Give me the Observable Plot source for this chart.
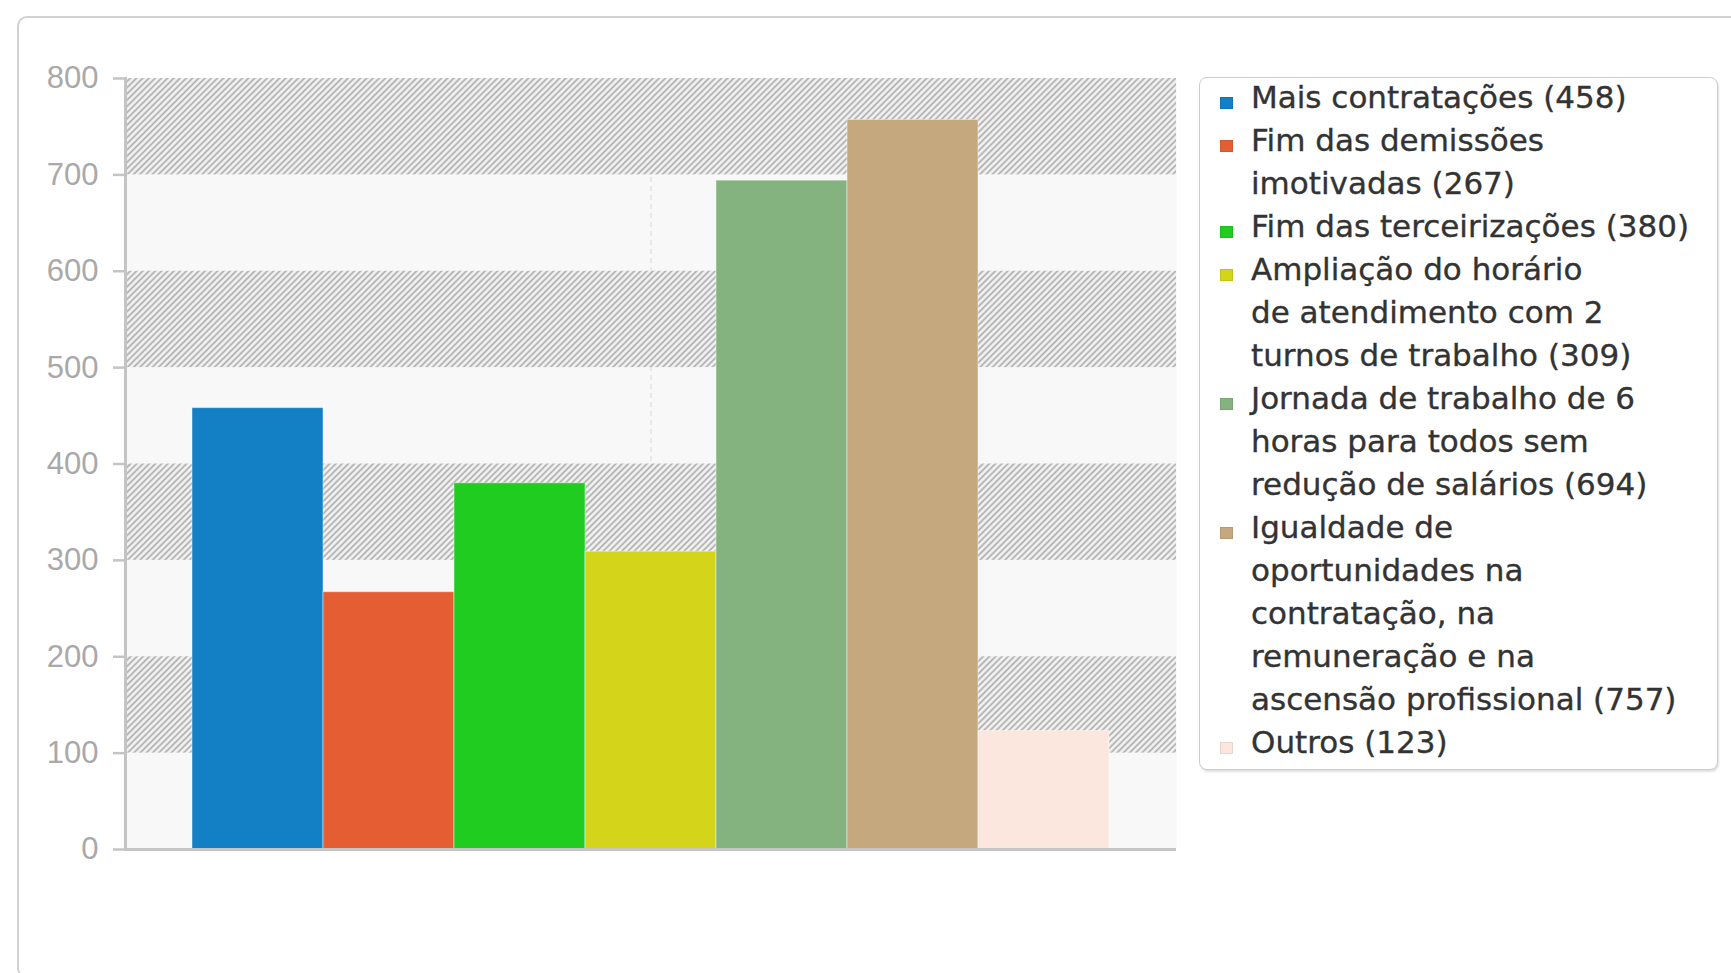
<!DOCTYPE html>
<html>
<head>
<meta charset="utf-8">
<script src="https://cdn.jsdelivr.net/npm/d3@7"></script>
<script src="https://cdn.jsdelivr.net/npm/@observablehq/plot@0.6"></script>
<style>
  html, body { margin: 0; padding: 0; background: #ffffff; }
  #stage { position: relative; width: 1731px; height: 973px; overflow: hidden; background: #fff; }
  #outer { position: absolute; left: 17px; top: 16px; width: 1800px; height: 962px;
           border: 2px solid #d2d2d2; border-radius: 10px; box-sizing: border-box; }
  #chart { position: absolute; left: 0; top: 0; }
  #legend { position: absolute; left: 1199px; top: 77px; width: 519px; height: 693px;
            box-sizing: border-box; border: 1.5px solid #cdcdcd; border-radius: 8px;
            box-shadow: 1px 2px 2px rgba(0,0,0,0.12); background: #fff;
            font-family: "DejaVu Sans", sans-serif; font-size: 31px; line-height: 43px; color: #333333;
            -webkit-text-stroke: 0.35px #333333; }
  #legend .list { margin-top: -2px; }
  #legend .item { position: relative; padding-left: 51px; white-space: nowrap; }
  #legend .sw { position: absolute; left: 20px; top: 21px; width: 13px; height: 12px;
                box-sizing: border-box; border: 1px solid rgba(0,0,0,0.08); -webkit-text-stroke: 0; }
</style>
</head>
<body>
<div id="stage">
  <div id="outer"></div>
  <div id="chart"></div>
  <div id="legend"><div class="list"></div></div>
</div>
<script>
// ---- data ----
const labelLines = [
  ["Mais contratações"],
  ["Fim das demissões", "imotivadas"],
  ["Fim das terceirizações"],
  ["Ampliação do horário", "de atendimento com 2", "turnos de trabalho"],
  ["Jornada de trabalho de 6", "horas para todos sem", "redução de salários"],
  ["Igualdade de", "oportunidades na", "contratação, na", "remuneração e na", "ascensão profissional"],
  ["Outros"]
];
const values = [458, 267, 380, 309, 694, 757, 123];
const colors = ["#137fc4", "#e55e33", "#21cc21", "#d4d41b", "#84b380", "#c6a87e", "#fbe7de"];
const yTicks = [0, 100, 200, 300, 400, 500, 600, 700, 800];
const hatchBands = [[100, 200], [300, 400], [500, 600], [700, 800]];

const categories = labelLines.map(l => l.join(" "));
const table = categories.map((c, i) => ({category: c, value: values[i]}));

// ---- chart ----
const chart = Plot.plot({
  width: 1190,
  height: 900,
  marginLeft: 125,
  marginRight: 14,
  marginTop: 78,
  marginBottom: 51,
  style: {background: "transparent", fontFamily: "Liberation Sans, Arial, sans-serif", overflow: "visible"},
  x: {domain: categories, paddingInner: 0, paddingOuter: 0.5, axis: null},
  y: {domain: [0, 800], axis: null},
  color: {domain: categories, range: colors},
  marks: [
    Plot.frame({fill: "#f8f8f8"}),
    Plot.ruleX([categories[3]], {stroke: "#e0e0e0", strokeWidth: 1.2, strokeDasharray: "5,4"}),
    Plot.rect(hatchBands, {y1: d => d[0], y2: d => d[1], fill: "url(#hatch)"}),
    Plot.barY(table, {x: "category", y: "value", fill: "category", stroke: "#ffffff", strokeOpacity: 0.45, strokeWidth: 1}),
    Plot.axisY({ticks: yTicks, label: null, tickSize: 12, tickPadding: 15, fontSize: 31, color: "#a9a9a9", stroke: "#c4c4c4", strokeWidth: 2.5, tickFormat: d => String(d)}),
    Plot.ruleY([0], {stroke: "#c4c4c4", strokeWidth: 3}),
    Plot.frame({anchor: "left", stroke: "#c4c4c4", strokeWidth: 3})
  ]
});

const ns = "http://www.w3.org/2000/svg";
const defs = document.createElementNS(ns, "defs");
defs.innerHTML =
  '<pattern id="hatch" patternUnits="userSpaceOnUse" width="4.4" height="4.4" patternTransform="rotate(45)">' +
  '<rect width="4.4" height="4.4" fill="#f3f3f3"></rect>' +
  '<line x1="2.2" y1="0" x2="2.2" y2="4.4" stroke="#a8a8a8" stroke-width="1.6"></line>' +
  '</pattern>';
chart.insertBefore(defs, chart.firstChild);
document.getElementById("chart").appendChild(chart);

// ---- legend ----
const list = document.querySelector("#legend .list");
labelLines.forEach((lines, i) => {
  const item = document.createElement("div");
  item.className = "item";
  const sw = document.createElement("span");
  sw.className = "sw";
  sw.style.background = colors[i];
  item.appendChild(sw);
  lines.forEach((t, j) => {
    const line = document.createElement("div");
    line.textContent = j === lines.length - 1 ? `${t} (${values[i]})` : t;
    item.appendChild(line);
  });
  list.appendChild(item);
});
</script>
</body>
</html>
